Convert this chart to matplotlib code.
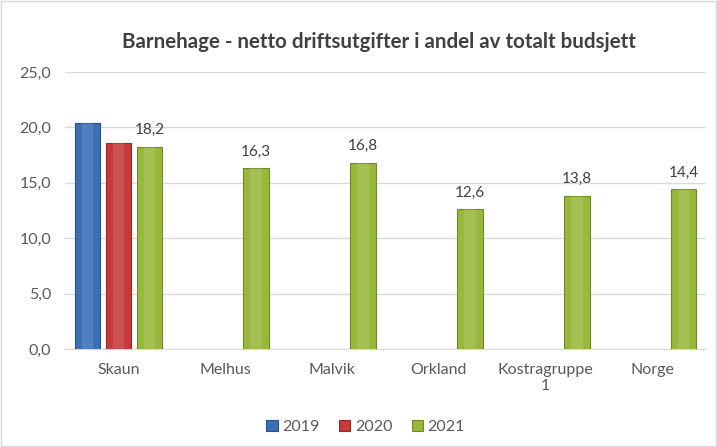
import matplotlib.pyplot as plt
import numpy as np

categories = ["Skaun", "Melhus", "Malvik", "Orkland", "Kostragruppe\n1", "Norge"]
years = ["2019", "2020", "2021"]
values_2019 = [20.4, None, None, None, None, None]
values_2020 = [18.6, None, None, None, None, None]
values_2021 = [18.2, 16.3, 16.8, 12.6, 13.8, 14.4]
yticks = [0, 5, 10, 15, 20, 25]

colors = ["#3B6FB6", "#C63A3A", "#98B83C"]
edges = ["#2A5290", "#962828", "#6F8A26"]

plt.rcParams['font.family'] = ['Lato', 'DejaVu Sans']

fig = plt.figure(figsize=(7.17, 4.47), dpi=100)
ax = fig.add_axes([65 / 717, 1 - 349 / 447, 641 / 717, 277 / 447])

x = np.arange(len(categories))
width = 0.24
offset = 0.29
series = [values_2019, values_2020, values_2021]
for i, (vals, name) in enumerate(zip(series, years)):
    xs = [xx + (i - 1) * offset for xx, v in zip(x, vals) if v is not None]
    ys = [v for v in vals if v is not None]
    bars = ax.bar(xs, ys, width, color=colors[i], edgecolor=edges[i],
                  linewidth=0.8, label=name, zorder=3)
    # soft highlight in the middle of each bar
    ax.bar(xs, ys, width * 0.45, color="white", alpha=0.12, linewidth=0, zorder=4)
    if name == "2021":
        for b, v in zip(bars, ys):
            ax.text(b.get_x() + b.get_width() / 2, v + 0.9, f"{v:.1f}".replace(".", ","),
                    ha="center", va="bottom", fontsize=11, color="#404040")

ax.set_xlim(-0.5, len(categories) - 0.5)
ax.set_ylim(0, 25)
ax.set_yticks(yticks)
ax.set_yticklabels([f"{t:.1f}".replace(".", ",") for t in yticks])
ax.set_xticks(x)
ax.set_xticklabels(categories)
ax.tick_params(axis="both", length=0, labelsize=11.5, colors="#595959")
ax.tick_params(axis="x", pad=10)
ax.tick_params(axis="y", pad=10)
ax.grid(axis="y", color="#D9D9D9", linewidth=1, zorder=0)
for s in ["top", "right", "left"]:
    ax.spines[s].set_visible(False)
ax.spines["bottom"].set_color("#D9D9D9")

fig.text(379 / 717, 1 - 42 / 447, "Barnehage - netto driftsutgifter i andel av totalt budsjett",
         ha="center", va="center", fontsize=14.8, fontweight="bold", color="#404040")

handles, labels = ax.get_legend_handles_labels()
fig.legend(handles, labels, loc="center", bbox_to_anchor=(0.51, 1 - 427 / 447), ncol=3,
           frameon=False, fontsize=11.5, handlelength=0.7, handleheight=0.7,
           handletextpad=0.3, columnspacing=1.2, labelcolor="#595959")

border = plt.Rectangle((0.002, 0.002), 0.996, 0.996, transform=fig.transFigure,
                       fill=False, edgecolor="#D9D9D9", linewidth=1)
fig.patches.append(border)

fig.savefig("out.png", dpi=100)
